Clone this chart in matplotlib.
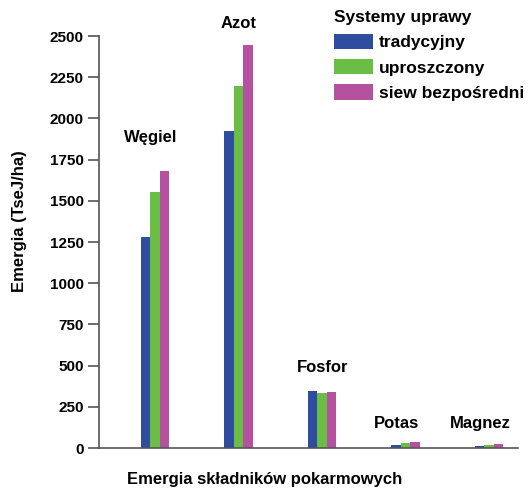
import matplotlib
matplotlib.use("Agg")
import matplotlib.pyplot as plt
import numpy as np

categories = ["Węgiel", "Azot", "Fosfor", "Potas", "Magnez"]
series_names = ["tradycyjny", "uproszczony", "siew bezpośredni"]
tradycyjny = [1282, 1924, 348, 20, 14]
uproszczony = [1553, 2195, 332, 28, 20]
siew_bezposredni = [1683, 2445, 340, 35, 22]
yticks = [0, 250, 500, 750, 1000, 1250, 1500, 1750, 2000, 2250, 2500]
label_y = [1857, 2549, 461, 121, 121]
label_dx = [-0.05, 0.0, 0.01, -0.11, -0.1]

colors = ["#2E4D9E", "#6BBE45", "#B5519E"]

plt.rcParams['font.family'] = ['Liberation Sans', 'DejaVu Sans']
plt.rcParams['font.weight'] = 'bold'

W, H = 528, 490
fig = plt.figure(figsize=(W/100, H/100), dpi=100)
ax = fig.add_axes([99/W, 1-448/H, (518-99)/W, (448-36)/H])

x = np.arange(len(categories))
w = 0.114
for i, (vals, name) in enumerate(zip([tradycyjny, uproszczony, siew_bezposredni], series_names)):
    ax.bar(x + (i-1)*w, vals, width=w, color=colors[i], label=name, zorder=2)

for xi, lab, ly, dx in zip(x, categories, label_y, label_dx):
    ax.text(xi + dx, ly, lab, ha='center', va='baseline', fontsize=12,
            fontweight='bold', clip_on=False)

ax.set_xlim(-0.67, 4.35)
ax.set_ylim(0, 2500)
ax.set_yticks(yticks)
ax.set_yticklabels([str(t) for t in yticks], fontsize=11, fontweight='bold')
ax.set_xticks([])
for s in ['top', 'right']:
    ax.spines[s].set_visible(False)
for s in ['left', 'bottom']:
    ax.spines[s].set_color('#555555')
    ax.spines[s].set_linewidth(1.2)
ax.tick_params(axis='y', direction='out', length=8, width=1.2, color='#555555', pad=3)
ax.set_ylabel("Emergia (TseJ/ha)", fontsize=12, fontweight='bold')
ax.yaxis.set_label_coords((27-99)/419, (448-221)/412)
ax.set_xlabel("Emergia składników pokarmowych", fontsize=12, fontweight='bold', va='top')
ax.xaxis.set_label_coords((265-99)/419, (448-472)/412)

leg = ax.legend(title="Systemy uprawy", loc='upper left',
                bbox_to_anchor=(334/W, 1-10/H), bbox_transform=fig.transFigure,
                frameon=False, fontsize=12.5,
                title_fontproperties={'weight': 'bold', 'size': 12.5},
                handlelength=2.25, handleheight=0.98, handletextpad=0.35,
                labelspacing=0.5, borderpad=0, borderaxespad=0, alignment='left')
for t in leg.get_texts():
    t.set_fontweight('bold')

fig.savefig("out.png", dpi=100)
